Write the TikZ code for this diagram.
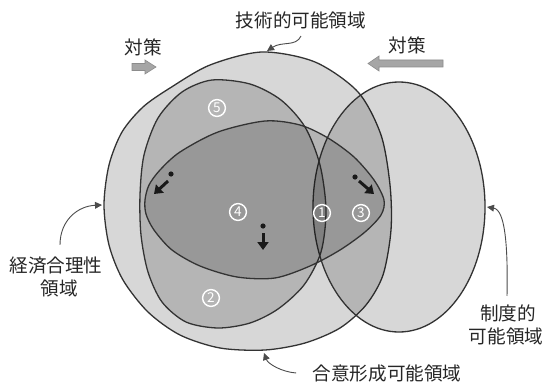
\documentclass[tikz,border=0pt]{standalone}
\usepackage{fontspec}
\setmainfont{Noto Sans CJK JP}
\usetikzlibrary{arrows.meta}
\definecolor{edge}{HTML}{333333}
\begin{document}
\begin{tikzpicture}[x=0.5pt,y=-0.5pt,
  region/.style={fill=black, fill opacity=0.155, draw=edge, line width=0.65pt},
  lbl/.style={font=\fontsize{9.3}{11}\selectfont, inner sep=0pt, text=black!85},
  num/.style={circle, draw=white, line width=0.7pt, text=white, minimum size=8.4pt, inner sep=0pt, font=\fontsize{6.8}{7}\selectfont},
  leader/.style={draw=black!70, line width=0.45pt, -{Triangle[length=3.5pt,width=3.4pt]}},
  shiftarrow/.style={draw=black!90, line width=1.5pt, -{Triangle[length=4pt,width=5.5pt]}},
  blockarrow/.style={fill=black!35, draw=black!45, line width=0.3pt}]
\useasboundingbox (0,0) rectangle (544,385);
\fill[white] (0,0) rectangle (544,385);

% large region
\path[region] plot[smooth cycle] coordinates {(104,205) (109,165) (122,132) (143,107) (170,88) (210,65) (262,52) (315,62) (358,92) (381,135) (390,185) (391,230) (383,275) (366,305) (340,328) (305,343) (265,350) (220,348) (180,335) (148,312) (123,280) (109,245)};
% right region
\path[region] (399,207) ellipse [x radius=43pt, y radius=62.5pt];
% tall region
\path[region] plot[smooth cycle] coordinates {(212,80) (250,84) (281,100) (305,127) (320,165) (326,210) (321,252) (304,285) (278,309) (250,323) (218,328) (186,322) (162,302) (148,272) (141,235) (140,195) (144,155) (158,118) (182,92)};
% central region
\path[region] plot[smooth cycle] coordinates {(145,200) (149,185) (160,170) (180,152) (218,132) (265,121) (300,125) (328,138) (354,157) (374,180) (384,200) (381,215) (365,232) (340,250) (310,266) (275,278) (237,277) (200,266) (172,250) (154,230) (146,214)};

% circled numbers
\node[num] (n1) at (322,213) {1};
\node[num] (n2) at (211,298) {2};
\node[num] (n3) at (361,213) {3};
\node[num] (n4) at (238,212) {4};
\node[num] (n5) at (217,108) {5};

% shift arrows with dots
\fill[black!90] (171,174) circle[radius=1.3pt];
\fill[black!90] (263,226) circle[radius=1.3pt];
\fill[black!90] (355,177) circle[radius=1.3pt];
\coordinate (a1s) at (168,181); \coordinate (a1e) at (154,194);
\coordinate (a2s) at (263,233); \coordinate (a2e) at (263,250);
\coordinate (a3s) at (359,181); \coordinate (a3e) at (374,194);
\draw[shiftarrow] (a1s) -- (a1e);
\draw[shiftarrow] (a2s) -- (a2e);
\draw[shiftarrow] (a3s) -- (a3e);

% block arrows (measures)
\node[lbl] (m1) at (143,47) {対策};
\node[lbl] (m2) at (407,45) {対策};
\fill[blockarrow] (132,63.5) -- (145,63.5) -- (145,60) -- (156,67) -- (145,74) -- (145,70.5) -- (132,70.5) -- cycle;
\fill[blockarrow] (443,60) -- (379,60) -- (379,56) -- (368,63.5) -- (379,71) -- (379,67) -- (443,67) -- cycle;

% labels
\node[lbl] (t1) at (301,20) {技術的可能領域};
\node[lbl] (e1) at (56,266) {経済合理性};
\node[lbl] (e2) at (59,288) {領域};
\node[lbl] (i1) at (508,313) {制度的};
\node[lbl] (i2) at (506,336) {可能領域};
\node[lbl] (c1) at (387,373) {合意形成可能領域};

% leader tips
\coordinate (tipT) at (267,51);
\coordinate (tipE) at (102,205);
\coordinate (tipI) at (487,207);
\coordinate (tipC) at (264,353);

\draw[leader] ([yshift=-3.5pt]t1.south) .. controls (296,47) and (282,41) .. (tipT);
\draw[leader] ([xshift=2pt,yshift=6pt]e1.north) .. controls (60,220) and (78,206) .. (tipE);
\draw[leader] ([xshift=-0.5pt,yshift=4pt]i1.north) .. controls (508,245) and (505,210) .. (tipI);
\draw[leader] ([xshift=-8pt]c1.west) .. controls (282,372) and (268,364) .. (tipC);
\end{tikzpicture}
\end{document}
